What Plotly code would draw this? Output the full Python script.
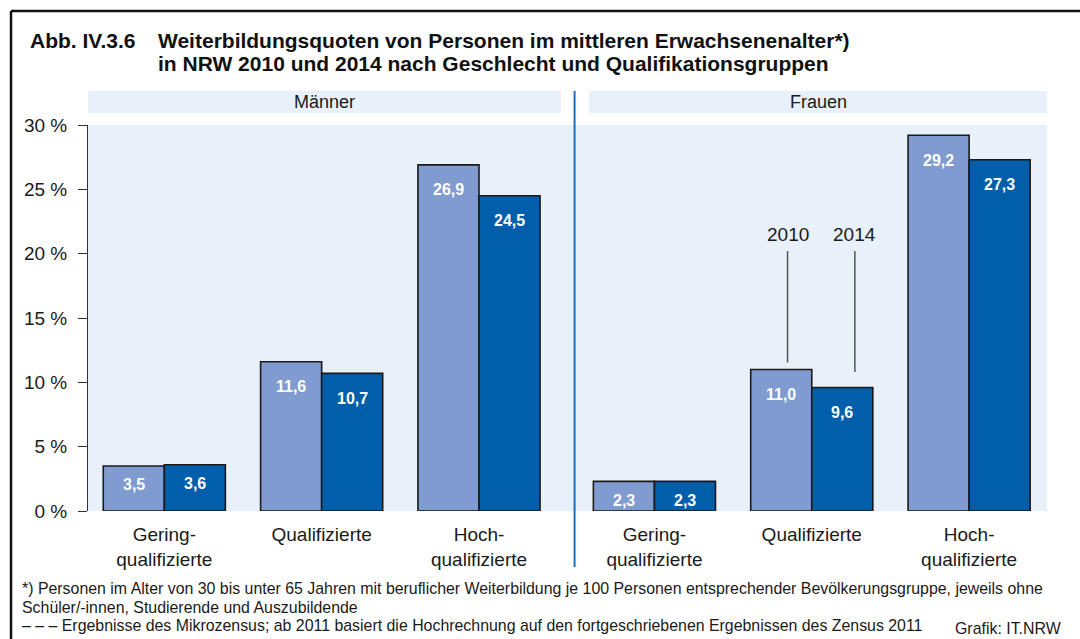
import plotly.graph_objects as go

# ---- data -------------------------------------------------------------
gruppen = ["Gering-<br>qualifizierte", "Qualifizierte", "Hoch-<br>qualifizierte"]
maenner_2010 = [3.5, 11.6, 26.9]
maenner_2014 = [3.6, 10.7, 24.5]
frauen_2010 = [2.3, 11.0, 29.2]
frauen_2014 = [2.3, 9.6, 27.3]
jahre = ["2010", "2014"]
y_ticks = [0, 5, 10, 15, 20, 25, 30]

# ---- layout geometry ---------------------------------------------------
W, H = 1080, 639
M_L, M_R, M_T, M_B = 88, 33, 125, 128
PW, PH = W - M_L - M_R, H - M_T - M_B

def px(x):
    return (x - M_L) / PW

def py(y):
    return (H - M_B - y) / PH

GAP = 0.115                      # extra space between the two panels
BAR_W = 0.388
pos_m = [0, 1, 2]
pos_f = [i + 3 + GAP for i in range(3)]
positions = pos_m + pos_f
x_range = [-0.485, 5.61]
split = (pos_m[-1] + pos_f[0]) / 2 + 0.05

C_2010 = "#7f9bd0"
C_2014 = "#005eab"
BG = "#e8f0fa"
FONT = "Liberation Sans, Arial, sans-serif"
TXT = "#1a1a1a"

v2010 = maenner_2010 + frauen_2010
v2014 = maenner_2014 + frauen_2014

fig = go.Figure()
for name, vals, col, off in [(jahre[0], v2010, C_2010, -BAR_W), (jahre[1], v2014, C_2014, 0)]:
    fig.add_trace(go.Bar(
        x=positions, y=vals, name=name, width=BAR_W, offset=off,
        marker=dict(color=col, line=dict(color="#1a1a1a", width=1.6)),
        hoverinfo="skip", showlegend=False,
    ))

def fmt(v):
    return f"{v:.1f}".replace(".", ",")

annotations = []
for vals, off in [(v2010, -BAR_W / 2), (v2014, BAR_W / 2)]:
    for p, v in zip(positions, vals):
        annotations.append(dict(
            x=p + off, y=v, xref="x", yref="y", text=fmt(v), showarrow=False,
            yshift=-25 if v > 5 else -19, yanchor="middle",
            font=dict(family=FONT, size=16, color="white", weight="bold"),
        ))

# year markers above the women's "Qualifizierte" bars
q = pos_f[1]
marker_x = [q - BAR_W / 2 + 0.04, q + BAR_W / 2 + 0.08]
marker_end = [frauen_2010[1] + 0.55, frauen_2014[1] + 1.2]
shapes = []
for mx, me, label in zip(marker_x, marker_end, jahre):
    shapes.append(dict(type="line", xref="x", yref="y", x0=mx, x1=mx, y0=20.2, y1=me,
                       line=dict(color="#555555", width=1.5)))
    annotations.append(dict(x=mx, y=21.5, xref="x", yref="y", text=label, showarrow=False,
                            font=dict(family=FONT, size=19, color=TXT)))

# panel header bands
bands = [(x_range[0], 2.52, "Männer"), (2.70, x_range[1], "Frauen")]
for x0, x1, label in bands:
    shapes.append(dict(type="rect", xref="x", yref="paper", x0=x0, x1=x1,
                       y0=py(113), y1=py(91), fillcolor=BG, line=dict(width=0), layer="below"))
    annotations.append(dict(x=(x0 + x1) / 2, y=py(102), xref="x", yref="paper", text=label,
                            showarrow=False, yanchor="middle",
                            font=dict(family=FONT, size=18, color=TXT)))

# panel divider
shapes.append(dict(type="line", xref="x", yref="paper", x0=split, x1=split,
                   y0=py(567), y1=py(91), line=dict(color="#1f6db4", width=2)))

# outer frame
shapes.append(dict(type="line", xref="paper", yref="paper", x0=px(11), x1=px(1085),
                   y0=py(11), y1=py(11), line=dict(color="#111111", width=2.5)))
shapes.append(dict(type="line", xref="paper", yref="paper", x0=px(11), x1=px(11),
                   y0=py(11), y1=py(645), line=dict(color="#111111", width=2.5)))

# title
title_font = dict(family=FONT, size=21, color="#111111", weight="bold")
annotations.append(dict(x=px(28), y=py(40), xref="paper", yref="paper", xanchor="left",
                        yanchor="middle", text="Abb. IV.3.6", showarrow=False, font=title_font))
annotations.append(dict(x=px(156), y=py(40), xref="paper", yref="paper", xanchor="left",
                        yanchor="middle", showarrow=False, font=title_font,
                        text="Weiterbildungsquoten von Personen im mittleren Erwachsenenalter*)"))
annotations.append(dict(x=px(156), y=py(63), xref="paper", yref="paper", xanchor="left",
                        yanchor="middle", showarrow=False, font=title_font,
                        text="in NRW 2010 und 2014 nach Geschlecht und Qualifikationsgruppen"))

# footnotes
foot_font = dict(family=FONT, size=15.9, color=TXT)
footnotes = [
    (588, "*) Personen im Alter von 30 bis unter 65 Jahren mit beruflicher Weiterbildung je 100 Personen entsprechender Bevölkerungsgruppe, jeweils ohne"),
    (607, "Schüler/-innen, Studierende und Auszubildende"),
    (625, "– – – Ergebnisse des Mikrozensus; ab 2011 basiert die Hochrechnung auf den fortgeschriebenen Ergebnissen des Zensus 2011"),
]
for yy, txt in footnotes:
    annotations.append(dict(x=px(20), y=py(yy), xref="paper", yref="paper", xanchor="left",
                            yanchor="middle", text=txt, showarrow=False, font=foot_font))
annotations.append(dict(x=px(1063), y=py(628), xref="paper", yref="paper", xanchor="right",
                        yanchor="middle", text="Grafik: IT.NRW", showarrow=False, font=foot_font))

fig.update_layout(
    width=W, height=H,
    margin=dict(l=M_L, r=M_R, t=M_T, b=M_B),
    paper_bgcolor="white", plot_bgcolor=BG,
    barmode="overlay",
    font=dict(family=FONT, color=TXT),
    shapes=shapes, annotations=annotations,
    xaxis=dict(range=x_range, tickvals=positions, ticktext=gruppen * 2,
               showgrid=False, zeroline=False, showline=False, ticks="",
               ticklabelstandoff=10,
               tickfont=dict(family=FONT, size=19, color=TXT), fixedrange=True),
    yaxis=dict(range=[0, 30], tickvals=y_ticks, ticktext=[f"{t} %" for t in y_ticks],
               showgrid=False, zeroline=False, showline=True, linecolor="#333333", linewidth=1,
               ticks="outside", ticklen=9, tickcolor="#333333", ticklabelstandoff=7,
               tickfont=dict(family=FONT, size=19, color=TXT), fixedrange=True),
)

fig.write_html("out.html", config={"displayModeBar": False})
